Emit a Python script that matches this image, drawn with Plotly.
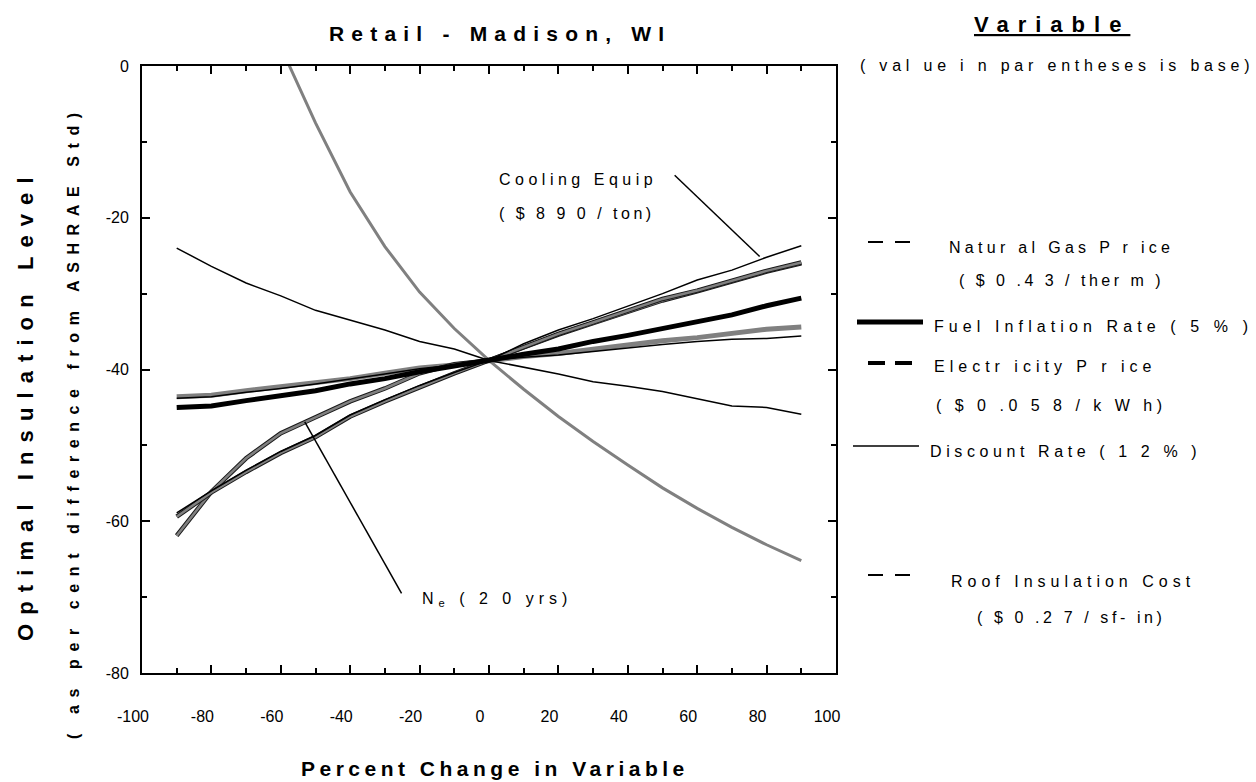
import plotly.graph_objects as go

# ---- data -------------------------------------------------------------
pct_change = [-90, -80, -70, -60, -50, -40, -30, -20, -10, 0,
              10, 20, 30, 40, 50, 60, 70, 80, 90]

x_tick_vals = [-100, -80, -60, -40, -20, 0, 20, 40, 60, 80, 100]
x_tick_text = ["-100", "-80", "-60", "-40", "-20", "0", "20", "40", "60", "80", "100"]
y_tick_vals = [0, -20, -40, -60, -80]
y_tick_text = ["0", "-20", "-40", "-60", "-80"]

roof_insulation_cost = [None, None, None, 2.5, -7.5, -16.6, -23.8, -29.8, -34.6, -38.8,
                        -42.6, -46.2, -49.5, -52.6, -55.6, -58.3, -60.8, -63.1, -65.2]
discount_rate = [-24.0, -26.4, -28.6, -30.3, -32.2, -33.5, -34.8, -36.3, -37.3, -38.8,
                 -39.7, -40.6, -41.6, -42.2, -42.9, -43.9, -44.8, -45.0, -45.9]
fuel_inflation_rate = [-45.0, -44.8, -44.1, -43.4, -42.8, -41.9, -41.2, -40.3, -39.5, -38.8,
                       -38.0, -37.3, -36.3, -35.5, -34.6, -33.8, -32.8, -31.6, -30.6]
natural_gas_price = [-43.6, -43.4, -42.8, -42.3, -41.7, -41.2, -40.5, -39.8, -39.4, -38.8,
                     -38.3, -37.9, -37.3, -36.7, -36.2, -35.8, -35.3, -34.7, -34.4]
natural_gas_price_b = [-43.8, -43.6, -43.0, -42.5, -41.9, -41.3, -40.6, -39.9, -39.4, -38.8,
                       -38.4, -38.1, -37.6, -37.1, -36.7, -36.3, -36.0, -35.9, -35.6]
electricity_price = [-59.4, -56.2, -53.5, -51.0, -48.9, -46.2, -44.2, -42.3, -40.5, -38.8,
                     -37.0, -35.3, -33.8, -32.3, -30.7, -29.6, -28.3, -27.0, -25.9]
cooling_equip = [-58.9, -56.0, -53.3, -50.8, -48.7, -46.0, -44.0, -42.1, -40.4, -38.8,
                 -36.6, -34.8, -33.3, -31.7, -30.0, -28.2, -26.9, -25.2, -23.7]
economic_life = [-61.9, -56.1, -51.7, -48.4, -46.3, -44.2, -42.5, -40.5, -39.3, -38.8,
                 -37.1, -35.4, -33.9, -32.4, -30.9, -29.7, -28.4, -27.1, -26.0]

# ---- page geometry (pixels) ------------------------------------------
W, H = 1256, 782
ML, MR, MT, MB = 142, 420, 66, 109
PW, PH = W - ML - MR, H - MT - MB
FONT = "Liberation Sans, Arial, Helvetica, sans-serif"
GRAY = "#808080"


def px(x):
    """page pixel x -> paper x"""
    return (x - ML) / PW


def py(y):
    """page pixel y (from top) -> paper y"""
    return (H - MB - y) / PH


def spaced(text, gap):
    return f'<span style="letter-spacing:{gap}px">{text}</span>'


fig = go.Figure()


def add_line(y, color, width):
    fig.add_trace(go.Scatter(x=pct_change, y=y, mode="lines",
                             line=dict(color=color, width=width),
                             hoverinfo="skip", showlegend=False))


# curves (drawing order matters for the overlaps)
add_line(roof_insulation_cost, GRAY, 3)
add_line(natural_gas_price, GRAY, 5)
add_line(natural_gas_price_b, "black", 1.5)
add_line(economic_life, "#1a1a1a", 4.5)
add_line(economic_life, GRAY, 2.5)
add_line(electricity_price, "#1a1a1a", 4.5)
add_line(electricity_price, GRAY, 2.5)
add_line(cooling_equip, "black", 1.5)
add_line(fuel_inflation_rate, "black", 5)
add_line(discount_rate, "black", 1.5)

axis_common = dict(
    ticks="inside", ticklen=8, tickwidth=2, tickcolor="black",
    showline=True, linecolor="black", linewidth=2, mirror="allticks",
    showgrid=False, zeroline=False,
    tickfont=dict(family=FONT, size=16, color="black"),
    minor=dict(dtick=10, tick0=0, ticks="inside", ticklen=5, tickwidth=2,
               tickcolor="black", showgrid=False),
)

fig.update_xaxes(range=[-100, 100], tickmode="array", tickvals=x_tick_vals,
                 ticktext=x_tick_text, ticklabelstandoff=28, ticklabelshift=-9,
                 **axis_common)
fig.update_yaxes(range=[-80, 0], tickmode="array", tickvals=y_tick_vals,
                 ticktext=y_tick_text, ticklabelstandoff=8, **axis_common)

annotations = []


def text(x, y, s, size=16, bold=False, gap=4.5, xanchor="center", angle=0, ref="paper"):
    body = f"<b>{s}</b>" if bold else s
    annotations.append(dict(
        x=x, y=y, xref=ref if ref == "paper" else "x", yref=ref if ref == "paper" else "y",
        text=spaced(body, gap), showarrow=False, xanchor=xanchor, yanchor="middle",
        textangle=angle, font=dict(family=FONT, size=size, color="black")))


# titles
text(px(500), py(33), "Retail - Madison, WI", size=21, bold=True, gap=7.2)
text(px(495), py(768), "Percent Change in Variable", size=21, bold=True, gap=4.5)
text(px(25), py(405), "Optimal Insulation Level", size=22, bold=True, gap=9.1, angle=-90)
text(px(73), py(422), "( as per cent difference from ASHRAE Std)", size=16, bold=True,
     gap=7.6, angle=-90)

# legend panel
text(px(1052), py(24), "<u>Variable</u>", size=22, bold=True, gap=9)
text(px(1057), py(65), "( val ue i n par entheses is base)", size=16, gap=4.8)
text(px(1061), py(247), "Natur al Gas P r ice", size=16, gap=4.3)
text(px(1061), py(280), "( $ 0 .4 3 / ther m )", size=16, gap=3.5)
text(px(932), py(326), "Fuel Inflation Rate ( 5 % )", size=16, gap=5.1, xanchor="left")
text(px(932), py(366), "Electr icity P r ice", size=16, gap=5.0, xanchor="left")
text(px(934), py(405), "( $ 0 .0 5 8 / k W h)", size=16, gap=4.5, xanchor="left")
text(px(928), py(451), "Discount Rate ( 1 2 % )", size=16, gap=4.6, xanchor="left")
text(px(1073), py(581), "Roof Insulation Cost", size=16, gap=5.0)
text(px(1071), py(617), "( $ 0 .2 7 / sf- in)", size=16, gap=3.6)

# in-plot labels
text(25.6, -15.0, "Cooling Equip", size=16, gap=4.5, ref="data")
text(25.3, -19.4, "( $ 8 9 0 / ton)", size=16, gap=3.5, ref="data")
text(2.4, -70.3, "N<sub>e</sub> ( 2 0 yrs)", size=16, gap=5.0, ref="data")

shapes = [
    # leader lines
    dict(type="line", xref="x", yref="y", x0=53.5, y0=-14.4, x1=78, y1=-25.1,
         line=dict(color="black", width=1.5)),
    dict(type="line", xref="x", yref="y", x0=-53.1, y0=-46.9, x1=-25.2, y1=-69.5,
         line=dict(color="black", width=1.5)),
]


def seg(x0, x1, y, width):
    shapes.append(dict(type="line", xref="paper", yref="paper",
                       x0=px(x0), x1=px(x1), y0=py(y), y1=py(y),
                       line=dict(color="black", width=width)))


# legend samples
seg(868, 883, 242, 2); seg(895, 910, 242, 2)            # natural gas
seg(857, 923, 322, 5)                                    # fuel inflation
seg(868, 885, 363, 4); seg(895, 912, 363, 4)             # electricity
seg(853, 919, 446, 1.5)                                  # discount rate
seg(868, 883, 575, 2); seg(895, 910, 575, 2)            # roof insulation

fig.update_layout(
    width=W, height=H,
    margin=dict(l=ML, r=MR, t=MT, b=MB),
    paper_bgcolor="white", plot_bgcolor="white",
    annotations=annotations, shapes=shapes,
    font=dict(family=FONT, color="black"),
)

fig.write_html("out.html")
